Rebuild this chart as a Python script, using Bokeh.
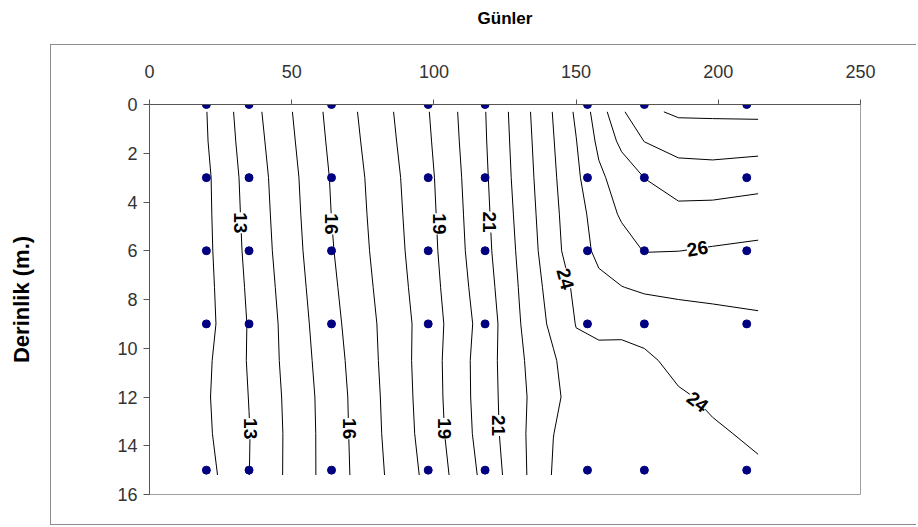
import numpy as np
from bokeh.plotting import figure
from bokeh.models import Range1d, FixedTicker, InlineStyleSheet
from bokeh.core.properties import value
from bokeh.embed import file_html
from bokeh.resources import INLINE

# ---- sampling stations (day of year, depth in m) ----
station_days = [20, 35, 64, 98, 118, 154, 174, 210]
station_depths = [0, 3, 6, 9, 15]

# ---- temperature field (deg C) ----
grid_days = [20, 35, 64, 98, 118, 130, 142, 150, 158, 166, 174, 186, 198, 214]
grid_depths = [0.3, 1.5, 3, 4.5, 6, 7.5, 9, 10.5, 12, 13.5, 15.2]
t_d0_3 = [11.98, 13.58, 16.28, 18.96, 20.97, 22.48, 24.05, 25.15, 26.50, 27.86, 28.80, 29.15, 29.16, 29.20]
t_d1_5 = [11.94, 13.48, 16.19, 18.88, 20.93, 22.42, 23.96, 24.97, 26.21, 27.23, 28.02, 28.41, 28.47, 28.42]
t_d3_0 = [11.83, 13.36, 16.07, 18.77, 20.86, 22.35, 23.86, 24.81, 25.81, 26.44, 27.01, 27.52, 27.56, 27.40]
t_d4_5 = [11.81, 13.30, 16.01, 18.71, 20.79, 22.25, 23.77, 24.64, 25.41, 26.13, 26.52, 26.71, 26.65, 26.49]
t_d6_0 = [11.78, 13.24, 15.93, 18.65, 20.72, 22.15, 23.68, 24.56, 25.22, 25.56, 26.04, 26.01, 25.91, 25.80]
t_d7_5 = [11.73, 13.15, 15.82, 18.56, 20.58, 22.04, 23.45, 24.18, 24.76, 24.98, 25.13, 25.20, 25.25, 25.32]
t_d9_0 = [11.69, 13.07, 15.71, 18.46, 20.43, 21.94, 23.26, 24.03, 24.24, 24.29, 24.41, 24.60, 24.70, 24.82]
t_d10_5 = [11.83, 13.08, 15.59, 18.50, 20.53, 21.84, 22.87, 23.75, 23.70, 23.62, 23.80, 24.29, 24.47, 24.65]
t_d12_0 = [11.89, 13.02, 15.50, 18.47, 20.52, 21.77, 22.77, 23.45, 23.50, 23.58, 23.70, 23.88, 24.15, 24.39]
t_d13_5 = [11.84, 12.97, 15.48, 18.41, 20.46, 21.76, 22.99, 23.35, 23.45, 23.55, 23.65, 23.75, 23.88, 24.15]
t_d15_2 = [11.65, 12.99, 15.47, 18.26, 20.28, 21.69, 23.08, 23.30, 23.40, 23.50, 23.60, 23.68, 23.76, 23.85]

iso_levels = list(range(12, 30))

# ---- isotherm labels ----
label_text = ["13", "16", "19", "21", "24", "26", "13", "16", "19", "21", "24"]
label_day = [32.1, 63.9, 102.1, 119.7, 146.2, 192.7, 35.4, 70.3, 103.9, 122.7, 192.7]
label_depth = [4.85, 4.9, 4.9, 4.82, 7.15, 5.91, 13.3, 13.3, 13.3, 13.17, 12.2]
label_angle = [-90, -90, -90, -90, -75, 9, -90, -90, -90, -90, -37]

x_ticks = [0, 50, 100, 150, 200, 250]
y_ticks = [0, 2, 4, 6, 8, 10, 12, 14, 16]

FONT = "Liberation Sans"

# outer chart-area border, drawn as a CSS overlay on the figure element
border_css = InlineStyleSheet(css="""
:host { position: relative; overflow: hidden; }
:host::after {
  content: ""; position: absolute; left: 50px; top: 44px;
  width: 2000px; height: 479px;
  border: 1.5px solid #8c8c8c; pointer-events: none;
}
""")

p = figure(frame_width=711, frame_height=390,
           min_border_left=149, min_border_right=56,
           min_border_top=104, min_border_bottom=31,
           x_range=Range1d(0, 250), y_range=Range1d(16, 0),
           x_axis_location="above",
           toolbar_location=None, output_backend="svg")
p.stylesheets = [border_css]

p.xgrid.visible = False
p.ygrid.visible = False
p.outline_line_color = "#a0a0a0"
p.background_fill_color = "white"
p.border_fill_color = "white"

z = np.array([t_d0_3, t_d1_5, t_d3_0, t_d4_5, t_d6_0, t_d7_5, t_d9_0,
              t_d10_5, t_d12_0, t_d13_5, t_d15_2])
p.contour(x=grid_days, y=grid_depths, z=z, levels=iso_levels,
          fill_color=None, line_color="black", line_width=1)

sx = [d for _ in station_depths for d in station_days]
sy = [h for h in station_depths for _ in station_days]
p.scatter(sx, sy, size=8, color="#000080", line_color="#000080")

p.text(x=label_day, y=label_depth, text=label_text,
       angle=[np.radians(a) for a in label_angle],
       text_align="center", text_baseline="middle",
       text_font=value(FONT), text_font_style="bold", text_font_size="19px",
       text_color="black", background_fill_color="white", padding=0)

for ax in (p.xaxis[0], p.yaxis[0]):
    ax.major_label_text_font = FONT
    ax.major_label_text_font_size = "18px"
    ax.major_label_text_color = "#333333"
    ax.axis_line_color = "#555555"
    ax.major_tick_line_color = "#555555"
    ax.minor_tick_line_color = None
    ax.major_tick_in = 0
    ax.axis_label_text_font = FONT
    ax.axis_label_text_font_style = "bold"
    ax.axis_label_text_color = "black"

p.xaxis.ticker = FixedTicker(ticks=x_ticks)
p.yaxis.ticker = FixedTicker(ticks=y_ticks)
p.xaxis.major_tick_out = 5
p.xaxis.major_label_standoff = 22
p.yaxis.major_tick_out = 6
p.yaxis.major_label_standoff = 6

p.xaxis.axis_label = "Günler"
p.xaxis.axis_label_text_font_size = "17px"
p.xaxis.axis_label_standoff = 34

p.yaxis.axis_label = "Derinlik (m.)"
p.yaxis.axis_label_text_font_size = "22px"
p.yaxis.axis_label_standoff = 80

open("out.html", "w").write(file_html(p, INLINE))
